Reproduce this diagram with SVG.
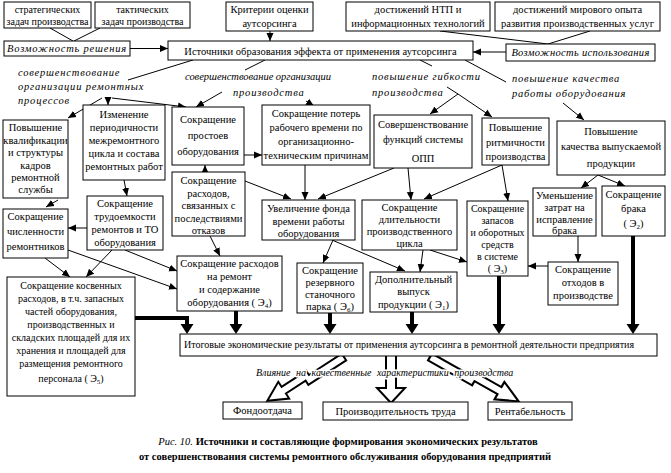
<svg xmlns="http://www.w3.org/2000/svg" xmlns:xlink="http://www.w3.org/1999/xlink" width="671" height="473" viewBox="0 0 671 473">
<style>
text{font-family:"Liberation Serif","Times New Roman","DejaVu Serif",serif;font-size:10.5px;fill:#000}
.t{text-anchor:middle}
.s{font-size:10px}
.i{font-style:italic;letter-spacing:0.8px}
.b{fill:#fff;stroke:#000;stroke-width:1}
.c{fill:none;stroke:#000;stroke-width:1}
.k{fill:none;stroke:#000;stroke-width:4;stroke-linejoin:miter}
.h{fill:#fff;stroke:#000;stroke-width:2;stroke-linejoin:miter}
.cap{font-weight:bold}
.halo{stroke:#fff;stroke-width:3px;paint-order:stroke;stroke-linejoin:round}
</style>
<defs>
<marker id="a" markerUnits="userSpaceOnUse" markerWidth="9" markerHeight="8" refX="8" refY="4" orient="auto"><path d="M0,0.5 L8,4 L0,7.5 z" fill="#000"/></marker>
<marker id="ak" markerUnits="userSpaceOnUse" markerWidth="11" markerHeight="14" refX="0" refY="6.5" orient="auto"><path d="M0,0 L10,6.5 L0,13 z" fill="#000"/></marker>
<path id="bolt" d="M0,-4 L46,-4 L46,1 L70,1 L70,-5 L90,5 L70,15 L70,9 L40,9 L40,4 L0,4 Z"/>
</defs>
<rect width="671" height="473" fill="#fff"/>

<g id="connectors">
<path class="c" d="M50,28 L73,41 M100,28 L74,41 M440,31 L548,44 M590,31 L548,44 M193,60 L128,80 M265,60 L245,70 M420,60 L432,66 M465,60 L506,82"/>
<g class="c" marker-end="url(#a)">
<path d="M130,48.5 L168,48.5"/>
<path d="M270,31 L270,41"/>
<path d="M506,52 L473,52"/>
<path d="M102,98 L68,118"/>
<path d="M108,99 L108,105"/>
<path d="M112,98 L186,107"/>
<path d="M222,92 L196,107"/>
<path d="M306,101 L314,106"/>
<path d="M447,87 L458,94 L430,114"/>
<path d="M458,94 L492,117"/>
<path d="M563,103 L584,120"/>
<path d="M244,155 L262,155"/>
<path d="M205,172 L205,165"/>
<path d="M124,180 L127,196"/>
<path d="M87,228 L68,228"/>
<path d="M58,200 L46,207"/>
<path d="M305,165 L305,200"/>
<path d="M245,181 L291,199"/>
<path d="M394,168 L318,199"/>
<path d="M408,168 L411,200"/>
<path d="M502,165 L424,199"/>
<path d="M502,165 L508,201"/>
<path d="M598,175 L581,188"/>
<path d="M598,175 L625,186"/>
<path d="M578,236 L578,262"/>
<path d="M548,266 L528,266"/>
<path d="M430,250 L467,262"/>
<path d="M423,250 L420,272"/>
<path d="M332,240 L405,271"/>
<path d="M333,240 L323,263"/>
<path d="M210,236 L220,256"/>
<path d="M68,250 L177,289"/>
<path d="M45,258 L70,277"/>
<path d="M112,250 L86,277"/>
<path d="M125,250 L177,271"/>
</g>
<g class="k" marker-end="url(#ak)">
<path d="M135,318 L187,318 L187,324"/>
<path d="M236,311 L236,324"/>
<path d="M330,313 L330,324"/>
<path d="M412,312 L412,324"/>
<path d="M499,276 L499,324"/>
<path d="M633,236 L633,324"/>
</g>
<use xlink:href="#bolt" class="h" transform="translate(344,357) rotate(147) scale(0.98,1)"/>
<use xlink:href="#bolt" class="h" transform="translate(430,357) rotate(29.5) scale(1.1,-1)"/>
<path class="h" d="M386,356 L386,388 L377,388 L391,403 L405,388 L396,388 L396,356"/>
</g>

<g id="n-strat"><rect class="b" x="4" y="2" width="87" height="26"/><text class="t s" x="47.5" y="12.5">стратегических</text><text class="t s" x="47.5" y="25">задач производства</text></g>
<g id="n-takt"><rect class="b" x="95" y="2" width="95" height="26"/><text class="t s" x="142.5" y="12.5">тактических</text><text class="t s" x="142.5" y="25">задач производства</text></g>
<g id="n-krit"><rect class="b" x="226" y="2" width="87" height="29"/><text class="t" x="269.5" y="13">Критерии оценки</text><text class="t" x="269.5" y="27">аутсорсинга</text></g>
<g id="n-ntp"><rect class="b" x="346" y="2" width="144" height="29"/><text class="t" x="418" y="13">достижений НТП и</text><text class="t" x="418" y="27">информационных технологий</text></g>
<g id="n-mir"><rect class="b" x="495" y="2" width="165" height="29"/><text class="t" x="577.5" y="13">достижений мирового опыта</text><text class="t" x="577.5" y="27">развития производственных услуг</text></g>

<g id="n-vr"><rect class="b" x="4" y="41" width="126" height="15"/><text class="t i" x="67" y="52">Возможность решения</text></g>
<g id="n-src"><rect class="b" x="168" y="41" width="305" height="19"/><text class="t" x="320.5" y="54.5">Источники образования эффекта от применения аутсорсинга</text></g>
<g id="n-vi"><rect class="b" x="506" y="44" width="149" height="17"/><text class="t" x="580.5" y="56" style="font-style:italic;letter-spacing:0.3px">Возможность использования</text></g>

<g id="labels">
<text class="i" x="18" y="76">совершенствование</text>
<text class="i" x="18" y="90">организации ремонтных</text>
<text class="i" x="18" y="104">процессов</text>
<text x="185" y="80" style="font-style:italic" textLength="146">совершенствование организации</text>
<text class="i" x="233" y="96">производства</text>
<text class="i" x="372" y="80">повышение гибкости</text>
<text class="i" x="372" y="96">производства</text>
<text class="i" x="512" y="82">повышение качества</text>
<text class="i" x="512" y="97">работы оборудования</text>
<text class="halo" x="256" y="376" style="font-style:italic;font-size:10px;word-spacing:3px">Влияние на качественные характеристики производства</text>
</g>

<g id="n1"><rect class="b" x="3" y="120" width="65" height="78"/><text class="t" x="35.5" y="131">Повышение</text><text class="t" x="35.5" y="143.5">квалификации</text><text class="t" x="35.5" y="156">и структуры</text><text class="t" x="35.5" y="168.5">кадров</text><text class="t" x="35.5" y="181">ремонтной</text><text class="t" x="35.5" y="193">службы</text></g>
<g id="n2"><rect class="b" x="83" y="105" width="82" height="75"/><text class="t" x="124" y="118">Изменение</text><text class="t" x="124" y="131">периодичности</text><text class="t" x="124" y="144">межремонтного</text><text class="t" x="124" y="157">цикла и состава</text><text class="t" x="124" y="170">ремонтных работ</text></g>
<g id="n3"><rect class="b" x="172" y="107" width="72" height="58"/><text class="t" x="208" y="123">Сокращение</text><text class="t" x="208" y="139">простоев</text><text class="t" x="208" y="155">оборудования</text></g>
<g id="n4"><rect class="b" x="262" y="105" width="108" height="60"/><text class="t" x="316" y="117">Сокращение потерь</text><text class="t" x="316" y="131">рабочего времени по</text><text class="t" x="316" y="145">организационно-</text><text class="t" x="316" y="159">техническим причинам</text></g>
<g id="n5"><rect class="b" x="374" y="115" width="98" height="53"/><text class="t" x="423" y="128">Совершенствование</text><text class="t" x="423" y="143">функций системы</text><text class="t" x="423" y="162">ОПП</text></g>
<g id="n6"><rect class="b" x="482" y="118" width="67" height="47"/><text class="t" x="515.5" y="131">Повышение</text><text class="t" x="515.5" y="146">ритмичности</text><text class="t" x="515.5" y="160">производства</text></g>
<g id="n7"><rect class="b" x="557" y="121" width="108" height="54"/><text class="t" x="611" y="135">Повышение</text><text class="t" x="611" y="150">качества выпускаемой</text><text class="t" x="611" y="167">продукции</text></g>

<g id="n8"><rect class="b" x="87" y="196" width="76" height="54"/><text class="t" x="125" y="207">Сокращение</text><text class="t" x="125" y="220">трудоемкости</text><text class="t" x="125" y="233">ремонтов и ТО</text><text class="t" x="125" y="246">оборудования</text></g>
<g id="n9"><rect class="b" x="172" y="172" width="73" height="64"/><text class="t" x="208.5" y="184">Сокращение</text><text class="t" x="208.5" y="196.5">расходов,</text><text class="t" x="208.5" y="209">связанных с</text><text class="t" x="208.5" y="221.5">последствиями</text><text class="t" x="208.5" y="234">отказов</text></g>
<g id="n10"><rect class="b" x="262" y="200" width="93" height="40"/><text class="t" x="308.5" y="212">Увеличение фонда</text><text class="t" x="308.5" y="225">времени работы</text><text class="t" x="308.5" y="237">оборудования</text></g>
<g id="n11"><rect class="b" x="362" y="200" width="95" height="50"/><text class="t" x="409.5" y="211">Сокращение</text><text class="t" x="409.5" y="223">длительности</text><text class="t" x="409.5" y="235">производственного</text><text class="t" x="409.5" y="247">цикла</text></g>
<g id="n12"><rect class="b" x="467" y="201" width="61" height="75"/><text class="t s" x="497.5" y="212">Сокращение</text><text class="t s" x="497.5" y="224">запасов</text><text class="t s" x="497.5" y="236">и оборотных</text><text class="t s" x="497.5" y="248">средств</text><text class="t s" x="497.5" y="260">в системе</text><text class="t s" x="497.5" y="272">( Э<tspan dy="2" font-size="7">3</tspan><tspan dy="-2">)</tspan></text></g>
<g id="n13"><rect class="b" x="533" y="188" width="63" height="48"/><text class="t" x="564.5" y="199">Уменьшение</text><text class="t" x="564.5" y="211">затрат на</text><text class="t" x="564.5" y="223">исправление</text><text class="t" x="564.5" y="234">брака</text></g>
<g id="n14"><rect class="b" x="602" y="186" width="63" height="50"/><text class="t" x="633.5" y="198">Сокращение</text><text class="t" x="633.5" y="212">брака</text><text class="t" x="633.5" y="227">( Э<tspan dy="2" font-size="7">2</tspan><tspan dy="-2">)</tspan></text></g>
<g id="n15"><rect class="b" x="3" y="209" width="65" height="49"/><text class="t" x="35.5" y="220">Сокращение</text><text class="t" x="35.5" y="235">численности</text><text class="t" x="35.5" y="250">ремонтников</text></g>

<g id="n16"><rect class="b" x="177" y="256" width="105" height="55"/><text class="t" x="229.5" y="267">Сокращение расходов</text><text class="t" x="229.5" y="280">на ремонт</text><text class="t" x="229.5" y="293">и содержание</text><text class="t" x="229.5" y="306">оборудования ( Э<tspan dy="2" font-size="7">4</tspan><tspan dy="-2">)</tspan></text></g>
<g id="n17"><rect class="b" x="297" y="263" width="66" height="50"/><text class="t" x="330" y="274">Сокращение</text><text class="t" x="330" y="286">резервного</text><text class="t" x="330" y="298">станочного</text><text class="t" x="330" y="310">парка ( Э<tspan dy="2" font-size="7">6</tspan><tspan dy="-2">)</tspan></text></g>
<g id="n18"><rect class="b" x="370" y="272" width="87" height="40"/><text class="t" x="413.5" y="283">Дополнительный</text><text class="t" x="413.5" y="295">выпуск</text><text class="t" x="413.5" y="308">продукции ( Э<tspan dy="2" font-size="7">1</tspan><tspan dy="-2">)</tspan></text></g>
<g id="n19"><rect class="b" x="548" y="262" width="70" height="43"/><text class="t" x="583" y="273">Сокращение</text><text class="t" x="583" y="286">отходов в</text><text class="t" x="583" y="299">производстве</text></g>
<g id="n20"><rect class="b" x="7" y="277" width="128" height="119"/><text class="t s" x="71" y="289">Сокращение косвенных</text><text class="t s" x="71" y="302">расходов, в т.ч. запасных</text><text class="t s" x="71" y="315">частей оборудования,</text><text class="t s" x="71" y="328">производственных и</text><text class="t s" x="71" y="341">складских площадей для их</text><text class="t s" x="71" y="354">хранения и площадей для</text><text class="t s" x="71" y="367">размещения ремонтного</text><text class="t s" x="71" y="382">персонала ( Э<tspan dy="2" font-size="7">5</tspan><tspan dy="-2">)</tspan></text></g>

<g id="n21"><rect class="b" x="180" y="334" width="477" height="22"/><text class="s" x="184" y="348" textLength="450" lengthAdjust="spacingAndGlyphs">Итоговые экономические результаты от применения аутсорсинга в ремонтной деятельности предприятия</text></g>
<g id="n22"><rect class="b" x="223" y="402" width="79" height="17"/><text class="t" x="262.5" y="414">Фондоотдача</text></g>
<g id="n23"><rect class="b" x="323" y="402" width="145" height="18"/><text class="t" x="395.5" y="414.5">Производительность труда</text></g>
<g id="n24"><rect class="b" x="488" y="402" width="84" height="18"/><text class="t" x="530" y="414.5">Рентабельность</text></g>

<g id="caption">
<text class="t cap" x="348" y="445"><tspan style="font-style:italic;font-weight:normal">Рис. 10.</tspan> Источники и составляющие формирования экономических результатов</text>
<text class="t cap" x="345" y="460">от совершенствования системы ремонтного обслуживания оборудования предприятий</text>
</g>
</svg>
